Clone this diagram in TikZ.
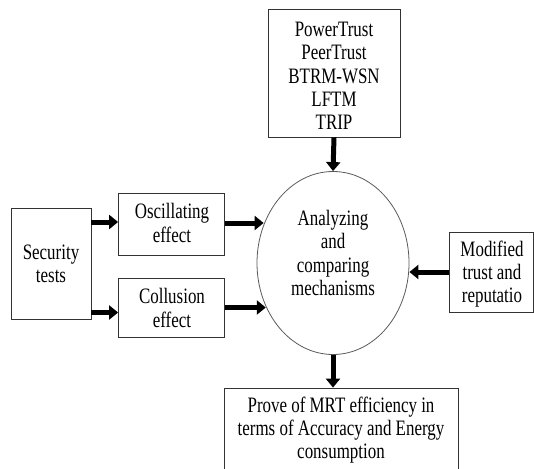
\documentclass[tikz,border=0pt]{standalone}
\usepackage{fontspec}
\setmainfont[FakeStretch=0.77]{Liberation Serif}
\usetikzlibrary{shapes.geometric,arrows.meta}
\begin{document}
\begin{tikzpicture}[x=1pt,y=-1pt,
  every node/.style={font=\fontsize{22}{23.3}\selectfont, align=center, inner sep=0pt},
  box/.style={draw=black!80, line width=0.8pt},
  fat/.style={line width=5pt, -{Triangle[width=14pt,length=9pt]}}]
\useasboundingbox (0,0) rectangle (534,468);
% top box
\node[box, minimum width=132pt, minimum height=128pt] (top) at (334,73) {};
\node (toptext) at (334,76) {PowerTrust\\ PeerTrust\\BTRM-WSN\\LFTM\\TRIP};
% ellipse
\node[ellipse, draw=black!65, line width=0.8pt, minimum width=152pt, minimum height=183pt] (ell) at (333,263) {};
\node (elltext) at (333,253) {Analyzing\\and\\comparing\\mechanisms};
% security
\node[box, minimum width=80pt, minimum height=111pt] (sec) at (51,263.5) {};
\node (sectext) at (51,264) {Security\\tests};
% oscillating
\node[box, minimum width=106pt, minimum height=62pt] (osc) at (171.5,224) {};
\node (osctext) at (172,223) {Oscillating\\effect};
% collusion
\node[box, minimum width=106pt, minimum height=59pt] (col) at (171.5,307.5) {};
\node (coltext) at (172,308) {Collusion\\effect};
% modified
\node[box, minimum width=84pt, minimum height=80pt] (mod) at (491,272) {};
\node (modtext) at (492,274) {Modified\\trust and\\reputatio};
% bottom
\node[box, minimum width=234pt, minimum height=90pt] (bot) at (341,433) {};
\node (bottext) at (341,430) {Prove of MRT efficiency in\\terms of Accuracy and Energy\\consumption};
% arrows
\draw[fat] (top.south) -- (ell.north);
\draw[fat] (ell.south) -- (ell.south |- bot.north);
\draw[fat] ([yshift=2pt]sec.east |- osc.west) -- ([yshift=2pt]osc.west);
\draw[fat] ([yshift=-5pt]sec.east |- col.west) -- ([yshift=-5pt]col.west);
\draw[fat] ([yshift=1pt]osc.east) -- ([yshift=1pt]osc.east -| ell.151);
\draw[fat] (col.east) -- (col.east -| ell.213.5);
\draw[fat] (mod.west) -- (mod.west -| ell.east);
\end{tikzpicture}
\end{document}
